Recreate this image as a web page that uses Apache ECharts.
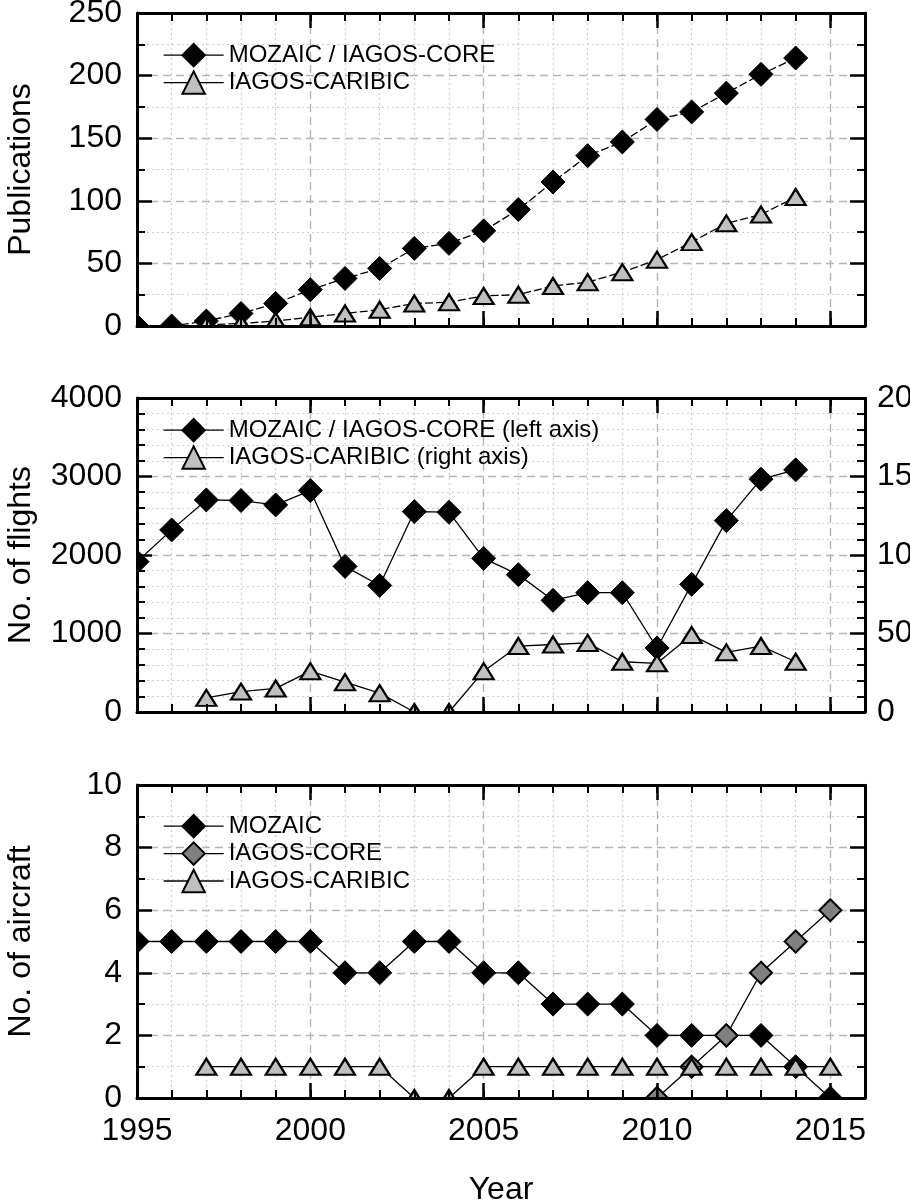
<!DOCTYPE html>
<html>
<head>
<meta charset="utf-8">
<script src="https://cdn.jsdelivr.net/npm/echarts@6/dist/echarts.min.js"></script>
<style>
html, body { margin: 0; padding: 0; background: #fff; }
#chart { width: 910px; height: 1202px; }
</style>
</head>
<body>
<div id="chart"></div>
<script>
// 横轴年份（1995-2016）
var years = [];
for (var y = 1995; y <= 2016; y++) years.push(String(y));

// 出版物
var pubMozaicYears = ['1995','1996','1997','1998','1999','2000','2001','2002','2003','2004','2005','2006','2007','2008','2009','2010','2011','2012','2013','2014'];
var pubMozaic = [0, 0, 4, 10, 18, 29, 38, 46, 62, 66, 76, 93, 115, 136, 147, 165, 171, 186, 201, 214];
var pubCaribicYears = ['1997','1998','1999','2000','2001','2002','2003','2004','2005','2006','2007','2008','2009','2010','2011','2012','2013','2014'];
var pubCaribic = [1, 2, 4, 7, 10, 13, 18, 19, 24, 25, 32, 35, 43, 53, 67, 82, 89, 103];

// 航班数
var flightMozaic = [1915, 2320, 2702, 2694, 2638, 2821, 1855, 1612, 2553, 2545, 1957, 1750, 1423, 1520, 1520, 815, 1626, 2438, 2966, 3085];
var flightCaribic = [9, 13, 15, 26, 19, 12, 0, 0, 26, 42, 43, 44, 32, 31, 49, 38, 42, 32];

// 飞机数
var acMozaicYears = ['1995','1996','1997','1998','1999','2000','2001','2002','2003','2004','2005','2006','2007','2008','2009','2010','2011','2012','2013','2014','2015'];
var acMozaic = [5, 5, 5, 5, 5, 5, 4, 4, 5, 5, 4, 4, 3, 3, 3, 2, 2, 2, 2, 1, 0];
var acCoreYears = ['2010','2011','2012','2013','2014','2015'];
var acCore = [0, 1, 2, 4, 5, 6];
var acCaribicYears = ['1997','1998','1999','2000','2001','2002','2003','2004','2005','2006','2007','2008','2009','2010','2011','2012','2013','2014','2015'];
var acCaribic = [1, 1, 1, 1, 1, 1, 0, 0, 1, 1, 1, 1, 1, 1, 1, 1, 1, 1, 1];

var FONT = '"Liberation Sans", Arial, Helvetica, sans-serif';
var gridLeft = 137, gridWidth = 728;
var grids = [
    {top: 13, height: 313},
    {top: 398, height: 314},
    {top: 785, height: 313}
];

function pairs(xs, vs) {
    return xs.map(function (x, i) { return [x, vs[i]]; });
}
function isMajor(idx) { return (1995 + idx) % 5 === 0; }
function isMinor(idx) { return (1995 + idx) % 5 !== 0; }
function plain(v) { return String(v); }

var majorDash = {color: '#b4b4b4', width: 1.4, type: [8, 5]};
var minorDot = {color: '#cdcdcd', width: 1.2, type: [2, 3]};
var frame = {color: '#000', width: 3};

var xAxes = [], yAxes = [];
grids.forEach(function (g, gi) {
    // 底部主刻度（在遮罩之上）
    xAxes.push({
        gridIndex: gi, type: 'category', data: years, boundaryGap: false, position: 'bottom', z: 10,
        axisLine: {show: true, lineStyle: frame},
        axisTick: {show: true, inside: true, length: 15, interval: isMajor, lineStyle: {color: '#000', width: 2.5}},
        axisLabel: {show: gi === 2, interval: isMajor, fontSize: 32, color: '#000', fontFamily: FONT, margin: 17},
        splitLine: {show: false},
        name: gi === 2 ? 'Year' : '', nameLocation: 'middle', nameGap: 76, nameMoveOverlap: false,
        nameTextStyle: {fontSize: 32, color: '#000', fontFamily: FONT}
    });
    // 底部次刻度
    xAxes.push({
        gridIndex: gi, type: 'category', data: years, boundaryGap: false, position: 'bottom', z: 10,
        axisLine: {show: false},
        axisTick: {show: true, inside: true, length: 8, interval: 0, lineStyle: {color: '#000', width: 2}},
        axisLabel: {show: false}, splitLine: {show: false}
    });
    // 顶部主刻度 + 虚线网格
    xAxes.push({
        gridIndex: gi, type: 'category', data: years, boundaryGap: false, position: 'top', z: 1,
        axisLine: {show: true, lineStyle: frame},
        axisTick: {show: true, inside: true, length: 15, interval: isMajor, lineStyle: {color: '#000', width: 2.5}},
        axisLabel: {show: false},
        splitLine: {show: true, interval: isMajor, lineStyle: majorDash}
    });
    // 顶部次刻度 + 点线网格
    xAxes.push({
        gridIndex: gi, type: 'category', data: years, boundaryGap: false, position: 'top', z: 1,
        axisLine: {show: false},
        axisTick: {show: true, inside: true, length: 8, interval: 0, lineStyle: {color: '#000', width: 2}},
        axisLabel: {show: false},
        splitLine: {show: true, interval: isMinor, lineStyle: minorDot}
    });
});

var yCfg = [
    {min: 0, max: 250, interval: 50, minor: 2, name: 'Publications'},
    {min: 0, max: 4000, interval: 1000, minor: 5, name: 'No. of flights'},
    {min: 0, max: 10, interval: 2, minor: 2, name: 'No. of aircraft'}
];
yCfg.forEach(function (c, gi) {
    yAxes.push({
        gridIndex: gi, type: 'value', min: c.min, max: c.max, interval: c.interval, position: 'left', z: 10,
        axisLine: {show: true, lineStyle: frame},
        axisTick: {show: true, inside: true, length: 15, lineStyle: {color: '#000', width: 2.5}},
        minorTick: {show: true, splitNumber: c.minor, length: 8, lineStyle: {color: '#000', width: 2}},
        axisLabel: {fontSize: 32, color: '#000', fontFamily: FONT, margin: 15, formatter: plain},
        splitLine: {show: false}, minorSplitLine: {show: false},
        name: c.name, nameLocation: 'middle', nameGap: 100, nameMoveOverlap: false,
        nameTextStyle: {fontSize: 32, color: '#000', fontFamily: FONT}
    });
    var right = gi === 1 ? {min: 0, max: 200, interval: 50} : c;
    yAxes.push({
        gridIndex: gi, type: 'value', min: right.min, max: right.max, interval: right.interval, position: 'right', z: 1,
        axisLine: {show: true, lineStyle: frame},
        axisTick: {show: true, inside: true, length: 15, lineStyle: {color: '#000', width: 2.5}},
        minorTick: {show: true, splitNumber: c.minor, length: 8, lineStyle: {color: '#000', width: 2}},
        axisLabel: {show: gi === 1, fontSize: 32, color: '#000', fontFamily: FONT, margin: 12, formatter: plain},
        splitLine: {show: true, lineStyle: majorDash},
        minorSplitLine: {show: true, lineStyle: minorDot}
    });
});

function diamondSeries(name, gi, yIdx, data, fill, dashed) {
    return {
        name: name, type: 'line', xAxisIndex: gi * 4, yAxisIndex: yIdx, data: data,
        symbol: 'diamond', symbolSize: fill === '#000' ? 24 : 22, showAllSymbol: true, clip: false, z: 2,
        itemStyle: {color: fill, borderColor: '#000', borderWidth: fill === '#000' ? 1 : 2},
        lineStyle: {color: '#000', width: 1.3, type: dashed ? [8, 3] : 'solid'},
        emphasis: {disabled: true}
    };
}
function triangleSeries(name, gi, yIdx, data, dashed) {
    return {
        name: name, type: 'line', xAxisIndex: gi * 4, yAxisIndex: yIdx, data: data,
        symbol: 'triangle', symbolSize: [20, 16], showAllSymbol: true, clip: false, z: 3,
        itemStyle: {color: '#c0c0c0', borderColor: '#000', borderWidth: 2.2},
        lineStyle: {color: '#000', width: 1.3, type: dashed ? [8, 3] : 'solid'},
        emphasis: {disabled: true}
    };
}

var series = [
    diamondSeries('MOZAIC / IAGOS-CORE', 0, 0, pairs(pubMozaicYears, pubMozaic), '#000', true),
    triangleSeries('IAGOS-CARIBIC', 0, 0, pairs(pubCaribicYears, pubCaribic), true),
    diamondSeries('MOZAIC / IAGOS-CORE (left axis)', 1, 2, pairs(pubMozaicYears, flightMozaic), '#000', false),
    triangleSeries('IAGOS-CARIBIC (right axis)', 1, 3, pairs(pubCaribicYears, flightCaribic), false),
    diamondSeries('MOZAIC', 2, 4, pairs(acMozaicYears, acMozaic), '#000', false),
    diamondSeries('IAGOS-CORE', 2, 4, pairs(acCoreYears, acCore), '#808080', false),
    triangleSeries('IAGOS-CARIBIC ', 2, 4, pairs(acCaribicYears, acCaribic), false)
];

function legend(names, top) {
    return {
        data: names, orient: 'vertical', left: 163, top: top, padding: [5, 0],
        itemWidth: 60, itemHeight: 28, itemGap: 3, selectedMode: false,
        textStyle: {fontSize: 24, color: '#000', fontFamily: FONT},
        lineStyle: {type: 'solid', width: 1.3, color: '#000'}
    };
}

// 白色遮罩：让落在边框上的标记只露出一半
var masks = [{type: 'rect', z: 5, silent: true, shape: {x: 0, y: 0, width: gridLeft, height: 1202}, style: {fill: '#fff'}}];
grids.forEach(function (g, gi) {
    var y0 = g.top + g.height;
    var h = gi < 2 ? grids[gi + 1].top - y0 - 1 : 1202 - y0;
    masks.push({type: 'rect', z: 5, silent: true, shape: {x: 0, y: y0, width: gridLeft + gridWidth + 1, height: h}, style: {fill: '#fff'}});
});

var chart = echarts.init(document.getElementById('chart'));
chart.setOption({
    backgroundColor: '#fff',
    animation: false,
    textStyle: {fontFamily: FONT},
    grid: grids.map(function (g) {
        return {left: gridLeft, width: gridWidth, top: g.top, height: g.height, containLabel: false, outerBoundsMode: 'none'};
    }),
    legend: [
        legend(['MOZAIC / IAGOS-CORE', 'IAGOS-CARIBIC'], 38),
        legend(['MOZAIC / IAGOS-CORE (left axis)', 'IAGOS-CARIBIC (right axis)'], 413),
        (function () {
            var l = legend(['MOZAIC', 'IAGOS-CORE', 'IAGOS-CARIBIC '], 809);
            l.formatter = function (n) { return n.trim(); };
            return l;
        })()
    ],
    xAxis: xAxes,
    yAxis: yAxes,
    graphic: {elements: masks},
    series: series
});
</script>
</body>
</html>
